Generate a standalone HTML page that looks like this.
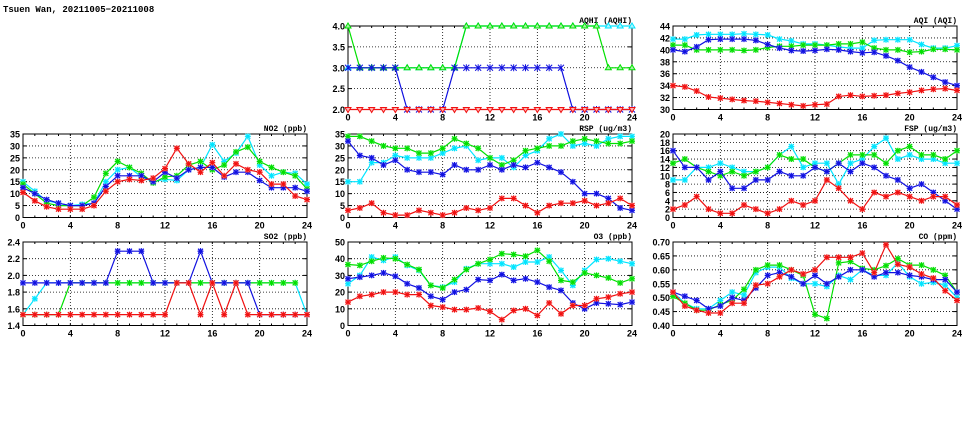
<!DOCTYPE html>
<html><head><meta charset="utf-8"><style>
body{margin:0;background:#fff;width:975px;height:447px;overflow:hidden}
svg{display:block}
.t{font-family:"Liberation Sans",sans-serif;font-size:9px;font-weight:bold;fill:#000}
.ttl{font-family:"Liberation Mono",monospace;font-size:8px;font-weight:bold;fill:#000}
</style></head><body>
<svg id="c" width="975" height="447">
<text class="ttl" x="3" y="12" style="font-size:9px">Tsuen Wan, 20211005−20211008</text>
</svg>
<script>
const hours=[0,1,2,3,4,5,6,7,8,9,10,11,12,13,14,15,16,17,18,19,20,21,22,23,24];
const seriesNames=['cyan','green','blue','red'];
const no2Cyan=[15,11,7,6,5,5.5,6,15,20,21,17,15,16,15.5,20,21,30.5,23.5,27,34,22,17.5,19,18.5,14];
const no2Green=[14,10,6,5,5,5,8.5,18.5,23.5,21,18.5,14.5,17,17.5,22,23.5,20,22,27.5,29.5,23.5,21,19,17.5,12];
const no2Blue=[12.5,10,7.5,6,5,5,6,13,17.5,17.5,17.5,15,19,16.5,20,21,21,17,19,19,15.5,12.5,12.5,12.5,11];
const no2Red=[10.5,7,4.5,3.5,3.5,3.5,5,11,15,16,15.5,16.5,20.5,29,22.5,19,23,17.5,22.5,20,19,14,14,9,7.5];
const so2Cyan=[1.53,1.72,1.91,1.91,1.91,1.91,1.91,1.91,1.91,1.91,1.91,1.91,1.91,1.91,1.91,1.91,1.91,1.91,1.91,1.91,1.91,1.91,1.91,1.91,1.53];
const so2Green=[1.53,1.53,1.53,1.53,1.91,1.91,1.91,1.91,1.91,1.91,1.91,1.91,1.91,1.91,1.91,1.91,1.91,1.91,1.91,1.91,1.91,1.91,1.91,1.91,null];
const so2Blue=[1.91,1.91,1.91,1.91,1.91,1.91,1.91,1.91,2.29,2.29,2.29,1.91,1.91,1.91,1.91,2.29,1.91,1.91,1.91,1.91,1.53,1.53,1.53,1.53,1.53];
const so2Red=[1.53,1.53,1.53,1.53,1.53,1.53,1.53,1.53,1.53,1.53,1.53,1.53,1.53,1.91,1.91,1.53,1.91,1.53,1.91,1.53,1.53,1.53,1.53,1.53,1.53];
const aqhiCyan=[3,3,3,3,3,3,3,3,3,3,4,4,4,4,4,4,4,4,4,4,4,4,4,4,4];
const aqhiGreen=[4,3,3,3,3,3,3,3,3,3,4,4,4,4,4,4,4,4,4,4,4,4,3,3,3];
const aqhiBlue=[3,3,3,3,3,2,2,2,2,3,3,3,3,3,3,3,3,3,3,2,2,2,2,2,2];
const aqhiRed=[2,2,2,2,2,2,2,2,2,2,2,2,2,2,2,2,2,2,2,2,2,2,2,2,2];
const aqiCyan=[41.8,41.8,42.5,42.6,42.6,42.6,42.7,42.6,42.5,41.8,41.5,41,41,40.8,40.5,40.3,40.3,41.6,41.7,41.7,41.7,40.9,40.3,40.3,40.7];
const aqiGreen=[40.8,40.8,40,40,40,40,39.9,40,40.4,40.6,40.6,40.8,40.8,40.8,41,41,41.3,40.3,40,40,39.6,39.7,40.1,40.1,40];
const aqiBlue=[40,39.7,40.5,41.7,41.8,41.8,41.8,41.6,40.9,40.3,39.9,39.8,39.9,40.1,40,39.7,39.5,39.6,39,38.2,37.1,36.3,35.4,34.6,34];
const aqiRed=[34,33.8,33.1,32.1,31.9,31.7,31.5,31.4,31.2,31,30.8,30.6,30.8,30.9,32.2,32.4,32.2,32.3,32.4,32.7,32.9,33.2,33.4,33.5,33.2];
const rspCyan=[15,15,23,23,26,25,25,25,27,29,30,24,25,25,21,26,28,33,35,30,31,30,33,34,34];
const rspGreen=[34,34,32,30,29,29,27,27,29,33,31,29,25,22,24,28,29,30,30,32,33,32,31,31,32];
const rspBlue=[32,26,25,22,24,20,19,19,18,22,20,20,22,20,22,21,23,21,19,15,10,10,8,4,3];
const rspRed=[3,4,6,2,1,1,3,2,1,2,4,3,4,8,8,5,2,5,6,6,7,5,6,8,5];
const fspCyan=[9,9,12,12,13,12,11,11,12,15,17,12,13,13,8,13,14,17,19,14,15,14,14,13,13];
const fspGreen=[13,14,12,11,10,11,10,11,12,15,14,14,12,11,13,15,15,15,13,16,17,15,15,14,16];
const fspBlue=[16,12,12,9,11,7,7,9,9,11,10,10,12,11,13,11,13,12,10,9,7,8,6,4,2];
const fspRed=[2,3,5,2,1,1,3,2,1,2,4,3,4,9,7,4,2,6,5,6,5,4,5,5,3];
const o3Cyan=[25,30,41,39,41,36,33,24,23,26,34,37,37,37,35,38,38,41,33,24,33,39.5,40,38.5,37];
const o3Green=[36.5,36,38.5,40.5,40,36.5,33.5,24,22.5,27.5,33.5,37,39.5,43,42.5,41.5,45,38.5,27,26,31.5,30,28.5,25.5,28];
const o3Blue=[28,29,30,31.5,29.5,25,22.5,17.5,15.5,20,21.5,27.5,27,30.5,27,28,26,23,21,13.5,10,13.5,13,12.5,14];
const o3Red=[14,17.5,18.5,20,20,18.5,18.5,12,11,9.5,9.5,10.5,8.5,3.5,9,10,6,13.5,7,12,12,16,17,19,20];
const coCyan=[0.52,0.48,0.46,0.46,0.49,0.52,0.51,0.59,0.61,0.61,0.57,0.55,0.55,0.54,0.58,0.565,0.60,0.58,0.58,0.625,0.575,0.55,0.555,0.545,0.50];
const coGreen=[0.505,0.48,0.455,0.455,0.475,0.49,0.53,0.60,0.617,0.617,0.60,0.58,0.44,0.425,0.625,0.63,0.605,0.60,0.615,0.64,0.617,0.617,0.60,0.58,0.52];
const coBlue=[0.52,0.505,0.49,0.46,0.47,0.50,0.49,0.535,0.58,0.59,0.575,0.55,0.58,0.55,0.575,0.60,0.60,0.575,0.59,0.59,0.58,0.575,0.565,0.565,0.52];
const coRed=[0.52,0.47,0.455,0.445,0.445,0.48,0.48,0.545,0.55,0.575,0.60,0.585,0.60,0.645,0.645,0.645,0.66,0.59,0.69,0.62,0.61,0.585,0.57,0.525,0.49];
const xTicks=[0,4,8,12,16,20,24];
const no2Ticks=['0','5','10','15','20','25','30','35'];
const so2Ticks=['1.4','1.6','1.8','2.0','2.2','2.4'];
const aqhiTicks=['2.0','2.5','3.0','3.5','4.0'];
const aqiTicks=['30','32','34','36','38','40','42','44'];
const rspTicks=['0','5','10','15','20','25','30','35'];
const fspTicks=['0','2','4','6','8','10','12','14','16','18','20'];
const o3Ticks=['0','10','20','30','40','50'];
const coTicks=['0.40','0.45','0.50','0.55','0.60','0.65','0.70'];

const colors={cyan:'#00e5ff',green:'#00e000',blue:'#1010e0',red:'#f01010'};
const light={cyan:'#b0f4ff',green:'#a8f0a8',blue:'#a8a8ff',red:'#ffb0b0'};
const NS='http://www.w3.org/2000/svg';
const svg=document.getElementById('c');
function mk(tag,attrs,parent){const e=document.createElementNS(NS,tag);for(const k in attrs)e.setAttribute(k,attrs[k]);(parent||svg).appendChild(e);return e;}

const panels=[
 {id:'aqhi',title:'AQHI (AQHI)',x:348,y:26,ticks:aqhiTicks,data:[aqhiCyan,aqhiGreen,aqhiBlue,aqhiRed],tri:true},
 {id:'aqi',title:'AQI (AQI)',x:673,y:26,ticks:aqiTicks,data:[aqiCyan,aqiGreen,aqiBlue,aqiRed]},
 {id:'no2',title:'NO2 (ppb)',x:23,y:134,ticks:no2Ticks,data:[no2Cyan,no2Green,no2Blue,no2Red]},
 {id:'rsp',title:'RSP (ug/m3)',x:348,y:134,ticks:rspTicks,data:[rspCyan,rspGreen,rspBlue,rspRed]},
 {id:'fsp',title:'FSP (ug/m3)',x:673,y:134,ticks:fspTicks,data:[fspCyan,fspGreen,fspBlue,fspRed]},
 {id:'so2',title:'SO2 (ppb)',x:23,y:242,ticks:so2Ticks,data:[so2Cyan,so2Green,so2Blue,so2Red]},
 {id:'o3',title:'O3 (ppb)',x:348,y:242,ticks:o3Ticks,data:[o3Cyan,o3Green,o3Blue,o3Red]},
 {id:'co',title:'CO (ppm)',x:673,y:242,ticks:coTicks,data:[coCyan,coGreen,coBlue,coRed]}
];
const W=284,H=83.5;
panels.forEach(p=>{
  const g=mk('g',{});
  
  
  const ymin=parseFloat(p.ticks[0]),ymax=parseFloat(p.ticks[p.ticks.length-1]);
  const sx=v=>p.x+v/24*W;
  const sy=v=>p.y+H-(v-ymin)/(ymax-ymin)*H;
  p.ticks.forEach((t,i)=>{
    const yy=sy(parseFloat(t));
    if(i>0&&i<p.ticks.length-1){mk('line',{x1:p.x,x2:p.x+W,y1:yy,y2:yy,stroke:'#000','stroke-width':0.8,'stroke-dasharray':'1,2'},g);}
    mk('line',{x1:p.x,x2:p.x+4,y1:yy,y2:yy,stroke:'#000'},g);
    mk('line',{x1:p.x+W-4,x2:p.x+W,y1:yy,y2:yy,stroke:'#000'},g);
    const tx=mk('text',{x:p.x-3,y:yy+3.5,'text-anchor':'end',class:'t'},g);tx.textContent=t;
    
    
  });
  hours.forEach(h=>{const xx=sx(h);mk('line',{x1:xx,x2:xx,y1:p.y+H,y2:p.y+H-2,stroke:'#000'},g);mk('line',{x1:xx,x2:xx,y1:p.y,y2:p.y+2,stroke:'#000'},g);});
  xTicks.forEach((t,i)=>{
    const xx=sx(t);
    if(i>0&&i<xTicks.length-1)mk('line',{x1:xx,x2:xx,y1:p.y,y2:p.y+H,stroke:'#000','stroke-width':0.8,'stroke-dasharray':'1,2'},g);
    const tx=mk('text',{x:xx,y:p.y+H+11,'text-anchor':'middle',class:'t'},g);tx.textContent=t;
    
    
  });
  const fr=mk('rect',{x:p.x,y:p.y,width:W,height:H,fill:'none',stroke:'#000','stroke-width':1},g);
  
  
  const ti=mk('text',{x:p.x+W,y:p.y-3,'text-anchor':'end',class:'ttl'},g);ti.textContent=p.title;
  
  
  p.data.forEach((arr,si)=>{
    const c=seriesNames[si];
    const pts=[];
    arr.forEach((v,i)=>{if(v!==null)pts.push([sx(hours[i]),sy(v)]);});
    const pl=mk('polyline',{points:pts.map(q=>q[0].toFixed(1)+','+q[1].toFixed(1)).join(' '),fill:'none',stroke:colors[c],'stroke-width':1.2},g);
    
    
    pts.forEach(q=>{
      const[x,y]=q;
      if(p.tri){
        const up=c==='cyan'||c==='green';
        const d=up?`M${x-3},${y+2}L${x+3},${y+2}L${x},${y-3}Z`:`M${x-3},${y-2}L${x+3},${y-2}L${x},${y+3}Z`;
        const m=mk('path',{d:c==='blue'?`M${x-3},${y-3}L${x+3},${y+3}M${x+3},${y-3}L${x-3},${y+3}M${x},${y-3.5}L${x},${y+3.5}`:d,fill:light[c],stroke:colors[c],'stroke-width':1},g);
        
        
      }else{
        mk('rect',{x:x-2.5,y:y-2.5,width:5,height:5,fill:light[c],stroke:'none'},g);
        const m=mk('path',{d:`M${x-2.5},${y-2.5}L${x+2.5},${y+2.5}M${x+2.5},${y-2.5}L${x-2.5},${y+2.5}M${x},${y-3}L${x},${y+3}M${x-3},${y}L${x+3},${y}`,stroke:colors[c],'stroke-width':1.1,fill:'none'},g);
        
        
      }
    });
  });
});
</script>
</body></html>
